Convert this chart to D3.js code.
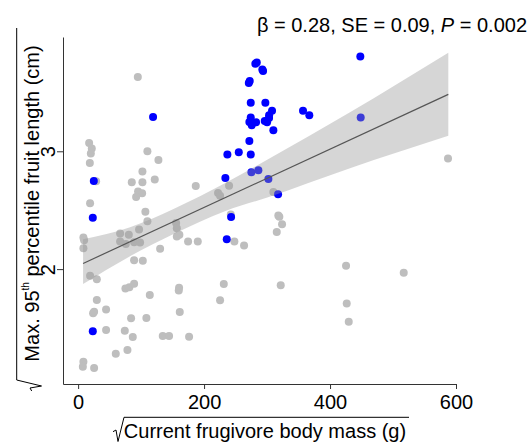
<!DOCTYPE html>
<html>
<head>
<meta charset="utf-8">
<script src="https://cdn.jsdelivr.net/npm/d3@7"></script>
<style>
  body { margin: 0; background: #fff; }
  svg { font-family: "Liberation Sans", Arial, sans-serif; }
</style>
</head>
<body>
<svg width="532" height="442"></svg>
<script>
'use strict';
(() => {

// species without a surviving large frugivore (grey) : [sqrt mass, sqrt fruit length]
var greyPoints = [
  [94.8, 3.630], [17.5, 3.070], [21.7, 3.023], [20.2, 2.981], [18.6, 2.901],
  [110.0, 3.000], [127.5, 2.926], [28.6, 2.746], [102.1, 2.828], [85.2, 2.737],
  [102.1, 2.737], [121.7, 2.760], [95.2, 2.658], [101.6, 2.644], [92.1, 2.613],
  [19.0, 2.559], [106.8, 2.486], [186.8, 2.706], [222.2, 2.647], [225.4, 2.623],
  [239.7, 2.708], [242.4, 2.464], [310.0, 2.655], [317.9, 2.455], [319.5, 2.445],
  [323.8, 2.381], [315.4, 2.314], [587.3, 2.938], [110.0, 2.407], [8.4, 2.269],
  [9.5, 2.246], [8.4, 2.178], [66.7, 2.303], [80.5, 2.291], [96.8, 2.336],
  [66.7, 2.235], [75.7, 2.214], [88.9, 2.229], [98.4, 2.226], [155.6, 2.392],
  [156.7, 2.347], [156.7, 2.277], [160.8, 2.291], [174.6, 2.235], [190.0, 2.235],
  [130.2, 2.172], [88.9, 2.076], [102.7, 2.070], [248.1, 2.235], [263.5, 2.201],
  [19.0, 1.943], [29.7, 1.915], [75.1, 1.836], [81.4, 1.847], [88.9, 1.875],
  [160.3, 1.842], [159.8, 1.819], [113.8, 1.780], [231.3, 1.873], [225.4, 1.735],
  [29.7, 1.737], [23.8, 1.625], [25.4, 1.638], [44.4, 1.658], [161.4, 1.636],
  [84.1, 1.582], [108.4, 1.585], [44.4, 1.483], [74.1, 1.477], [86.8, 1.424],
  [134.4, 1.432], [144.4, 1.432], [176.2, 1.426], [59.8, 1.282], [78.3, 1.314],
  [8.4, 1.214], [7.5, 1.172], [25.4, 1.161], [425.4, 2.028], [517.0, 1.969],
  [321.7, 1.864], [426.5, 1.709], [429.7, 1.553]
];

// blue points
var bluePoints = [
  [448.1, 3.805], [283.7, 3.754], [281.4, 3.743], [292.5, 3.695], [293.7, 3.681],
  [272.5, 3.596], [271.0, 3.579], [274.1, 3.413], [297.3, 3.413], [307.9, 3.345],
  [303.2, 3.305], [357.1, 3.345], [367.1, 3.305], [274.1, 3.286], [271.9, 3.248],
  [275.7, 3.220], [282.5, 3.246], [296.3, 3.257], [300.0, 3.246], [303.2, 3.282],
  [310.0, 3.178], [448.7, 3.286], [271.9, 3.087], [237.0, 2.972], [255.1, 2.992],
  [274.1, 2.972], [275.1, 2.822], [286.2, 2.839], [233.8, 2.774], [302.1, 2.765],
  [317.5, 2.636], [242.9, 2.443], [119.0, 3.291], [24.9, 2.748], [23.3, 2.436],
  [236.0, 2.254], [23.3, 1.472]
];

// fitted line and its confidence band
var fitX = [7.9, 587.8];
var fitY = [2.048, 3.483];
var bandX = [7.9, 82.5, 154, 233, 301.6, 431.7, 587.8];
var bandLower = [1.873, 2.110, 2.305, 2.492, 2.610, 2.856, 3.131];
var bandUpper = [2.254, 2.356, 2.517, 2.729, 2.932, 3.331, 3.836];

var xTicks = [0, 200, 400, 600];
var yTicks = [2, 3];
var xLim = [-24, 600];
var yLim = [1.025, 3.97];

var svg = d3.select('svg');

var x = d3.scaleLinear().domain(xLim).range([63, 456]);
var y = d3.scaleLinear().domain(yLim).range([384, 37]);

// points
svg.append('g').selectAll('circle').data(greyPoints).enter().append('circle')
  .attr('cx', d => x(d[0]))
  .attr('cy', d => y(d[1]))
  .attr('r', 4)
  .attr('fill', '#bebebe');

svg.append('g').selectAll('circle').data(bluePoints).enter().append('circle')
  .attr('cx', d => x(d[0]))
  .attr('cy', d => y(d[1]))
  .attr('r', 4)
  .attr('fill', '#0000ff');

// band
var band = bandX.map((v, i) => ({x: v, lo: bandLower[i], hi: bandUpper[i]}));
svg.append('path')
  .datum(band)
  .attr('d', d3.area()
    .x(d => x(d.x))
    .y0(d => y(d.lo))
    .y1(d => y(d.hi))
    .curve(d3.curveMonotoneX))
  .attr('fill', '#999999')
  .attr('fill-opacity', 0.4);

svg.append('line')
  .attr('x1', x(fitX[0])).attr('y1', y(fitY[0]))
  .attr('x2', x(fitX[1])).attr('y2', y(fitY[1]))
  .attr('stroke', '#555')
  .attr('stroke-width', 1.2);

// axes
var xAxis = svg.append('g')
  .attr('transform', 'translate(0,384)')
  .call(d3.axisBottom(x).tickValues(xTicks).tickSize(5).tickSizeOuter(0).tickPadding(6));
var yAxis = svg.append('g')
  .attr('transform', 'translate(63,0)')
  .call(d3.axisLeft(y).tickValues(yTicks).tickSize(6).tickSizeOuter(0).tickFormat(d3.format('d')));

[xAxis, yAxis].forEach(a => {
  a.selectAll('path, line').attr('stroke', '#333');
  a.selectAll('text').attr('font-size', 20).attr('fill', '#000')
    .attr('font-family', '"Liberation Sans", Arial, sans-serif');
});
yAxis.selectAll('.tick text')
  .attr('transform', 'rotate(-90)')
  .attr('text-anchor', 'middle')
  .attr('x', 0)
  .attr('y', -8)
  .attr('dy', 0);

// axis titles
svg.append('text')
  .attr('x', 265).attr('y', 438)
  .attr('text-anchor', 'middle')
  .attr('font-size', 20)
  .text('Current frugivore body mass (g)');
svg.append('path')
  .attr('d', 'M113,431.7 L116,430 L118,441.5 L124,417.3 L409,417.3')
  .attr('fill', 'none').attr('stroke', '#000').attr('stroke-width', 1);

var yt = svg.append('text')
  .attr('transform', 'translate(39,203.5) rotate(-90)')
  .attr('text-anchor', 'middle')
  .attr('font-size', 20);
yt.append('tspan').text('Max. 95');
yt.append('tspan').attr('font-size', 10).attr('dy', -10).text('th');
yt.append('tspan').attr('dy', 10).text(' percentile fruit length (cm)');
svg.append('path')
  .attr('d', 'M31.7,391 L30,388 L41.5,386 L16.7,380 L16.7,28')
  .attr('fill', 'none').attr('stroke', '#000').attr('stroke-width', 1);

// statistics
var st = svg.append('text')
  .attr('x', 527).attr('y', 31.7)
  .attr('text-anchor', 'end')
  .attr('font-size', 20);
st.append('tspan').text('\u03b2 = 0.28, SE = 0.09, ');
st.append('tspan').attr('font-style', 'italic').text('P');
st.append('tspan').text(' = 0.002');

})();
</script>
</body>
</html>
